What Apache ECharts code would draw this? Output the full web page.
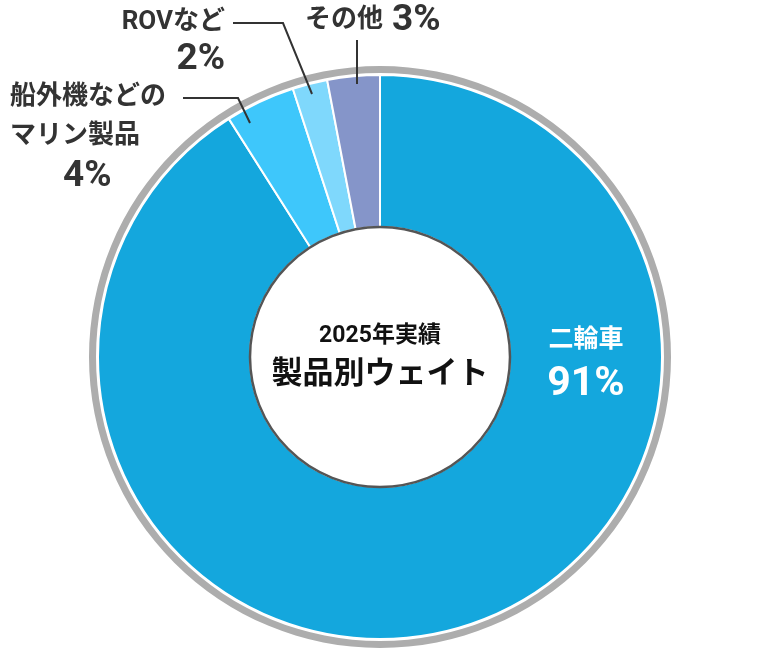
<!DOCTYPE html>
<html>
<head>
<meta charset="utf-8">
<script src="https://cdn.jsdelivr.net/npm/echarts@6/dist/echarts.min.js"></script>
<style>
  html, body { margin: 0; padding: 0; background: #fff; }
  #chart { width: 763px; height: 657px; }
</style>
</head>
<body>
<div id="chart"></div>
<script>
// 製品別ウェイト（2025年実績）
const names = ['二輪車', '船外機などの\nマリン製品', 'ROVなど', 'その他'];
const shares = [91, 4, 2, 3];
const colors = ['#14a7dd', '#3ec7fb', '#7fd8fc', '#8595c9'];
const centerTitle = ['2025年実績', '製品別ウェイト'];

const FONT = 'Roboto, "Noto Sans CJK JP", sans-serif';
const CX = 380, CY = 357;

// ラベルの置き場所と引き出し線
const labelPos = [
  { x: 586, y: 323, align: 'center' },
  { x: 10, y: 78, align: 'left', line: [[250, 123], [238, 98], [183, 98]] },
  { x: 225, y: 3, align: 'right', line: [[312, 94], [283, 23], [233, 23]] },
  { x: 305, y: 1, align: 'left', line: [[357, 84], [357, 40]] }
];

function labelText(i) {
  if (i === 0) return '{w|' + names[i] + '}\n{wp|' + shares[i] + '%}';
  if (i === 3) return '{n|' + names[i] + '}{p3|' + shares[i] + '%}';
  const lines = names[i].split('\n').map(s => '{n|' + s + '}');
  return lines.join('\n') + '\n{' + (i === 1 ? 'p4' : 'p') + '|' + shares[i] + '%}';
}

const pctStyle = { fontFamily: FONT, fontSize: 37, fontWeight: 'bold', color: '#333' };

const chart = echarts.init(document.getElementById('chart'), null, { renderer: 'canvas' });

const pieData = names.map((n, i) => ({
  name: n,
  value: shares[i],
  itemStyle: { color: colors[i] },
  label: i === 0 ? { position: 'inside' } : undefined,
  labelLine: i === 0 ? { show: false } : undefined
}));

chart.setOption({
  animation: false,
  series: [
    {
      // 外側のグレーのリング
      type: 'pie',
      center: [CX, CY],
      radius: [284, 291],
      silent: true,
      label: { show: false },
      labelLine: { show: false },
      itemStyle: { color: '#adadad' },
      data: [{ value: 1 }]
    },
    {
      type: 'pie',
      center: [CX, CY],
      radius: [130, 282],
      startAngle: 90,
      silent: true,
      itemStyle: { borderColor: '#fff', borderWidth: 2 },
      label: { show: false },
      labelLine: { show: false },
      data: pieData
    },
    {
      // ラベル用（引き出し線をセクターの上に描くため）
      type: 'pie',
      z: 3,
      center: [CX, CY],
      radius: [130, 282],
      startAngle: 90,
      avoidLabelOverlap: false,
      silent: true,
      itemStyle: { color: 'rgba(0,0,0,0)', borderWidth: 0 },
      label: {
        show: true,
        position: 'outside',
        fontFamily: FONT,
        formatter: p => labelText(p.dataIndex),
        rich: {
          n: { fontFamily: FONT, fontSize: 26, fontWeight: 'bold', color: '#333', lineHeight: 39 },
          p: Object.assign({ lineHeight: 36 }, pctStyle),
          p3: Object.assign({ lineHeight: 39, padding: [0, 0, 0, 9] }, pctStyle),
          p4: Object.assign({ lineHeight: 42, padding: [0, 0, 0, 53] }, pctStyle),
          w: { fontFamily: FONT, fontSize: 25, fontWeight: 'bold', color: '#fff', lineHeight: 36 },
          wp: { fontFamily: FONT, fontSize: 41, fontWeight: 'bold', color: '#fff', lineHeight: 52 }
        }
      },
      labelLine: { show: true, lineStyle: { color: '#333', width: 2 } },
      labelLayout: function (params) {
        const L = labelPos[params.dataIndex];
        const out = { x: L.x, y: L.y, align: L.align, verticalAlign: 'top' };
        if (L.line) out.labelLinePoints = L.line;
        return out;
      },
      data: pieData.map(d => Object.assign({}, d, { itemStyle: { color: 'rgba(0,0,0,0)' } }))
    },
    {
      // 中央の白い円
      type: 'pie',
      z: 4,
      center: [CX, CY],
      radius: [0, 130],
      silent: true,
      itemStyle: { color: '#fff', borderColor: '#555', borderWidth: 2.5 },
      label: {
        show: true,
        position: 'center',
        formatter: '{a|' + centerTitle[0] + '}\n{b|' + centerTitle[1] + '}',
        rich: {
          a: { fontFamily: FONT, fontSize: 23, fontWeight: 'bold', color: '#111', lineHeight: 36 },
          b: { fontFamily: FONT, fontSize: 31, fontWeight: 'bold', color: '#111', lineHeight: 42 }
        }
      },
      labelLine: { show: false },
      data: [{ value: 1, name: centerTitle[1] }]
    }
  ]
});
</script>
</body>
</html>
